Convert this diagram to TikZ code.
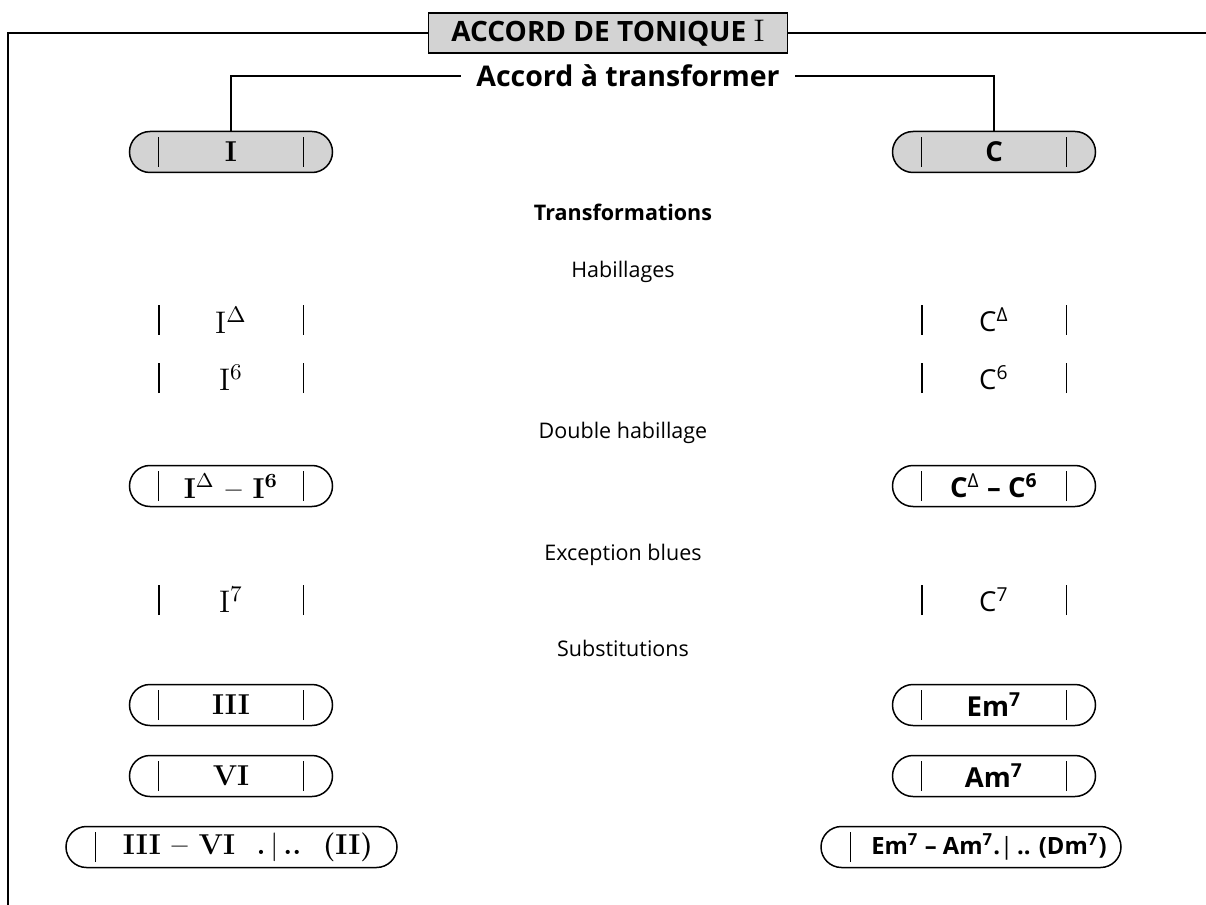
\documentclass[tikz,border=0pt]{standalone}
\usepackage{fontspec}
\setsansfont{Open Sans}
\usetikzlibrary{shapes.misc,positioning}
\definecolor{boxgray}{RGB}{211,211,211}
\tikzset{
  chord/.style={rounded rectangle, draw, line width=0.6pt, minimum width=81.2pt, minimum height=16.4pt, inner sep=0pt},
  bare/.style={minimum width=81.2pt, minimum height=16.4pt, inner sep=0pt},
  rmbold/.style={font=\fontsize{11.5}{13}\selectfont\bfseries},
  rmlight/.style={font=\fontsize{12.5}{14}\selectfont},
  sfbold/.style={font=\sffamily\bfseries\fontsize{11}{13}\selectfont},
  sflight/.style={font=\sffamily\fontsize{11}{13}\selectfont},
  heading/.style={font=\sffamily\fontsize{8.6}{10}\selectfont},
}
\newcommand\chordbars[1]{%
  \draw ([xshift=12pt,yshift=-6pt]#1.west) -- ([xshift=12pt,yshift=6pt]#1.west);
  \draw ([xshift=-12pt,yshift=-6pt]#1.east) -- ([xshift=-12pt,yshift=6pt]#1.east);}
\newcommand\leftbar[1]{%
  \draw ([xshift=12pt,yshift=-6pt]#1.west) -- ([xshift=12pt,yshift=6pt]#1.west);}
\begin{document}
\begin{tikzpicture}[x=0.4pt,y=-0.4pt,line width=0.5pt]
  \useasboundingbox (0,0) rectangle (1206,905);
  % title and frame
  \node[draw, fill=boxgray, minimum width=143.6pt, minimum height=16pt, inner sep=0pt, font=\sffamily\bfseries\fontsize{11.2}{13}\selectfont] (title) at (608,33) {ACCORD DE TONIQUE {\rmfamily\mdseries\fontsize{12.5}{13}\selectfont I}};
  \draw (8,905) |- (title.west);
  \draw (title.east) -- (1206,33);
  % chord to transform
  \node[font=\sffamily\bfseries\fontsize{11.4}{13}\selectfont, inner xsep=6pt] (accord) at (628,76) {Accord à transformer};
  \node[chord, fill=boxgray, rmbold] (bI) at (231,152) {I};
  \node[chord, fill=boxgray, sfbold] (bC) at (994,152) {C};
  \chordbars{bI} \chordbars{bC}
  \draw (accord.west) -| (bI.north);
  \draw (accord.east) -| (bC.north);
  \node[heading, font=\sffamily\bfseries\fontsize{8.6}{10}\selectfont] (transf) at (623,212) {Transformations};
  % habillages
  \node[heading] (habil) at (623,272) {Habillages};
  \node[bare, rmlight] (hIa) at (231,320) {$\mathrm{I}^{\Delta}$};
  \node[bare, sflight] (hCa) at (994,320) {C\textsuperscript{Δ}};
  \node[bare, rmlight] (hIb) at (231,378) {$\mathrm{I}^{6}$};
  \node[bare, sflight] (hCb) at (994,378) {C\textsuperscript{6}};
  \chordbars{hIa} \chordbars{hCa} \chordbars{hIb} \chordbars{hCb}
  % double habillage
  \node[heading] (double) at (623,433) {Double habillage};
  \node[chord, rmbold] (dI) at (231,486) {I$^{\Delta}$ – I\textsuperscript{6}};
  \node[chord, sfbold] (dC) at (994,486) {C\textsuperscript{\mdseries Δ} – C\textsuperscript{6}};
  \chordbars{dI} \chordbars{dC}
  % blues
  \node[heading] (blues) at (623,555) {Exception blues};
  \node[bare, rmlight] (eI) at (231,600) {$\mathrm{I}^{7}$};
  \node[bare, sflight] (eC) at (994,600) {C\textsuperscript{7}};
  \chordbars{eI} \chordbars{eC}
  % substitutions
  \node[heading] (subst) at (623,648) {Substitutions};
  \node[chord, rmbold] (sIII) at (231,705) {III};
  \node[chord, sfbold] (sEm) at (994,705) {Em\textsuperscript{7}};
  \node[chord, rmbold] (sVI) at (231,776) {VI};
  \node[chord, sfbold] (sAm) at (994,776) {Am\textsuperscript{7}};
  \chordbars{sIII} \chordbars{sEm} \chordbars{sVI} \chordbars{sAm}
  \node[chord, minimum width=132.4pt] (cI) at (231.5,847) {};
  \node[chord, minimum width=120pt] (cC) at (971,847) {};
  \leftbar{cI} \leftbar{cC}
  \node[rmbold] (cItxt) at (248,847) {III – VI~~.\,{\mdseries|}\,..~~(II)};
  \node[font=\sffamily\bfseries\fontsize{9.5}{12}\selectfont] (cCtxt) at (989,847) {Em\textsuperscript{7} – Am\textsuperscript{7}.{\mdseries|}\,.. (Dm\textsuperscript{7})};
\end{tikzpicture}
\end{document}
